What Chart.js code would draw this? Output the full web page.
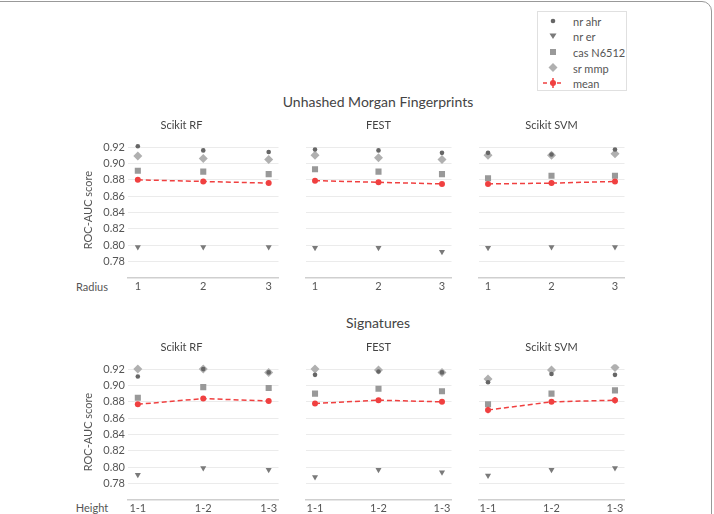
<!DOCTYPE html>
<html>
<head>
<meta charset="utf-8">
<script src="https://cdn.jsdelivr.net/npm/chart.js@4.4.0/dist/chart.umd.min.js"></script>
<style>
  body { margin: 0; background: #fff; width: 714px; height: 514px; overflow: hidden; position: relative; font-family: Lato, "DejaVu Sans", sans-serif; }
  .frame { position: absolute; left: -14px; top: 1px; width: 726px; height: 560px; box-sizing: border-box; border: 1.5px solid #999; border-radius: 10px; }
  canvas { position: absolute; }
  .lbl { position: absolute; transform: translate(-50%, -50%); white-space: nowrap; line-height: 1; color: #444; }
  .legend { position: absolute; left: 537px; top: 11px; width: 90px; height: 80px; box-sizing: border-box; border: 1px solid #e0e0e0; background: #fff; }
  .legend div { position: absolute; left: 35px; font-size: 11px; color: #555; line-height: 1; }
  .legend svg { position: absolute; left: 0; top: 0; }
</style>
</head>
<body>
<div class="frame"></div>

<div class="lbl" style="left:378px; top:102px; font-size:14px;">Unhashed Morgan Fingerprints</div>
<div class="lbl" style="left:378px; top:323px; font-size:14px;">Signatures</div>
<div class="lbl" style="left:92px; top:286px; font-size:11px; color:#555;">Radius</div>
<div class="lbl" style="left:92px; top:507px; font-size:11px; color:#555;">Height</div>

<div class="legend">
  <svg width="90" height="80">
    <circle cx="15" cy="9" r="2.3" fill="#666"/>
    <polygon points="11.5,21.5 18.5,21.5 15,27" fill="#7a7a7a"/>
    <rect x="12" y="37" width="6" height="6" fill="#999"/>
    <polygon points="15,51 19.5,55.5 15,60 10.5,55.5" fill="#b0b0b0"/>
    <line x1="5" y1="71" x2="25" y2="71" stroke="#f04040" stroke-width="1.5" stroke-dasharray="4,3"/>
    <line x1="15" y1="66" x2="15" y2="76" stroke="#f04040" stroke-width="1.5"/>
    <circle cx="15" cy="71" r="3" fill="#f04040"/>
  </svg>
  <div style="top:4px;">nr ahr</div>
  <div style="top:19px;">nr er</div>
  <div style="top:35px;">cas N6512</div>
  <div style="top:51px;">sr mmp</div>
  <div style="top:66px;">mean</div>
</div>

<canvas id="m0"></canvas><canvas id="m1"></canvas><canvas id="m2"></canvas>
<canvas id="s0"></canvas><canvas id="s1"></canvas><canvas id="s2"></canvas>

<script>
// panels and axis labels
const methods = ["Scikit RF", "FEST", "Scikit SVM"];
const radiusTicks = ["1", "2", "3"];
const heightTicks = ["1-1", "1-2", "1-3"];
const yTicks = [0.78, 0.80, 0.82, 0.84, 0.86, 0.88, 0.90, 0.92];

// Unhashed Morgan Fingerprints, one row per method (RF, FEST, SVM)
const morganNrAhr = [[0.921, 0.916, 0.914], [0.917, 0.916, 0.913], [0.913, 0.911, 0.917]];
const morganNrEr = [[0.798, 0.798, 0.798], [0.797, 0.797, 0.792], [0.797, 0.798, 0.798]];
const morganCas = [[0.891, 0.890, 0.887], [0.893, 0.890, 0.887], [0.882, 0.885, 0.885]];
const morganSrMmp = [[0.909, 0.906, 0.905], [0.910, 0.907, 0.905], [0.910, 0.910, 0.912]];
const morganMean = [[0.880, 0.878, 0.876], [0.879, 0.877, 0.875], [0.875, 0.876, 0.878]];
const morganErr = [[0.0015, 0.0015, 0.0015], [0.002, 0.0015, 0.002], [0.002, 0.003, 0.002]];

// Signatures
const sigNrAhr = [[0.911, 0.920, 0.916], [0.913, 0.917, 0.916], [0.904, 0.914, 0.913]];
const sigNrEr = [[0.791, 0.799, 0.797], [0.788, 0.797, 0.794], [0.790, 0.797, 0.799]];
const sigCas = [[0.885, 0.898, 0.897], [0.890, 0.896, 0.893], [0.877, 0.890, 0.894]];
const sigSrMmp = [[0.920, 0.920, 0.916], [0.920, 0.919, 0.916], [0.908, 0.919, 0.922]];
const sigMean = [[0.877, 0.884, 0.881], [0.878, 0.882, 0.880], [0.870, 0.880, 0.882]];
const sigErr = [[0.002, 0.002, 0.0015], [0.003, 0.002, 0.0015], [0.004, 0.002, 0.004]];

Chart.defaults.font.family = "Lato, 'DejaVu Sans', sans-serif";
Chart.defaults.color = "#555";

const red = "#f04040";
const pts = (vals) => vals.map((v, i) => ({ x: i + 1, y: v }));

// vertical error bars on the mean series
const errorBars = {
  id: "errorBars",
  afterDatasetsDraw(chart) {
    const ds = chart.data.datasets[0];
    const meta = chart.getDatasetMeta(0);
    const y = chart.scales.y;
    const ctx = chart.ctx;
    ctx.save();
    ctx.strokeStyle = red;
    ctx.lineWidth = 1.5;
    meta.data.forEach((p, i) => {
      const v = ds.data[i].y, e = ds.errors[i];
      ctx.beginPath();
      ctx.moveTo(p.x, y.getPixelForValue(v - e));
      ctx.lineTo(p.x, y.getPixelForValue(v + e));
      ctx.stroke();
    });
    ctx.restore();
  }
};

const colLeft = [128, 301, 474];
const panelW = 155;

function makePanel(id, col, rowTop, tickLabels, nrAhr, nrEr, cas, srMmp, mean, err) {
  const yW = col === 0 ? 48 : 0;
  const cv = document.getElementById(id);
  cv.width = panelW + yW;
  cv.height = 179;
  cv.style.left = (colLeft[col] - yW) + "px";
  cv.style.top = rowTop + "px";

  new Chart(cv, {
    type: "line",
    data: {
      datasets: [
        { label: "mean", data: pts(mean[col]), errors: err[col], showLine: true,
          borderColor: red, borderWidth: 1.5, borderDash: [5, 3],
          pointStyle: "circle", pointRadius: 3, pointBackgroundColor: red, pointBorderColor: red, pointBorderWidth: 0 },
        { label: "nr ahr", data: pts(nrAhr[col]), showLine: false,
          pointStyle: "circle", pointRadius: 2.3, pointBackgroundColor: "#666", pointBorderWidth: 0 },
        { label: "nr er", data: pts(nrEr[col]), showLine: false,
          pointStyle: "triangle", rotation: 180, pointRadius: 3.5, pointBackgroundColor: "#7a7a7a", pointBorderWidth: 0 },
        { label: "cas N6512", data: pts(cas[col]), showLine: false,
          pointStyle: "rect", pointRadius: 4.3, pointBackgroundColor: "#999", pointBorderWidth: 0 },
        { label: "sr mmp", data: pts(srMmp[col]), showLine: false,
          pointStyle: "rectRot", pointRadius: 4.5, pointBackgroundColor: "#b0b0b0", pointBorderWidth: 0 }
      ]
    },
    options: {
      responsive: false,
      animation: false,
      devicePixelRatio: 1,
      layout: { padding: 0 },
      plugins: {
        legend: { display: false },
        tooltip: { enabled: false },
        title: { display: true, text: methods[col], color: "#444", font: { size: 11, weight: "normal" }, padding: { top: 0, bottom: 10 } }
      },
      scales: {
        x: {
          type: "linear", min: 0.85, max: 3.15,
          afterBuildTicks: (s) => { s.ticks = [1, 2, 3].map((v) => ({ value: v })); },
          afterFit: (s) => { s.height = 20; s.paddingLeft = 0; s.paddingRight = 0; },
          ticks: { callback: (v) => tickLabels[Math.round(v) - 1], font: { size: 11 }, padding: 2, maxRotation: 0 },
          grid: { display: false, drawTicks: false },
          border: { display: true, color: "#cfcfcf", width: 1.5 }
        },
        y: {
          min: 0.76, max: 0.926,
          afterBuildTicks: (s) => { s.ticks = yTicks.map((v) => ({ value: v })); },
          afterFit: (s) => { s.width = yW; s.paddingTop = 0; s.paddingBottom = 0; },
          ticks: { display: col === 0, callback: (v) => v.toFixed(2), font: { size: 11 }, padding: 3 },
          grid: { color: "#ebebeb", lineWidth: 1, drawTicks: false },
          border: { display: false },
          title: { display: col === 0, text: "ROC-AUC score", color: "#555", font: { size: 11 }, padding: { top: 2, bottom: 0 } }
        }
      }
    },
    plugins: [errorBars]
  });
}

[0, 1, 2].forEach((c) => {
  makePanel("m" + c, c, 119, radiusTicks, morganNrAhr, morganNrEr, morganCas, morganSrMmp, morganMean, morganErr);
  makePanel("s" + c, c, 341, heightTicks, sigNrAhr, sigNrEr, sigCas, sigSrMmp, sigMean, sigErr);
});
</script>
</body>
</html>
